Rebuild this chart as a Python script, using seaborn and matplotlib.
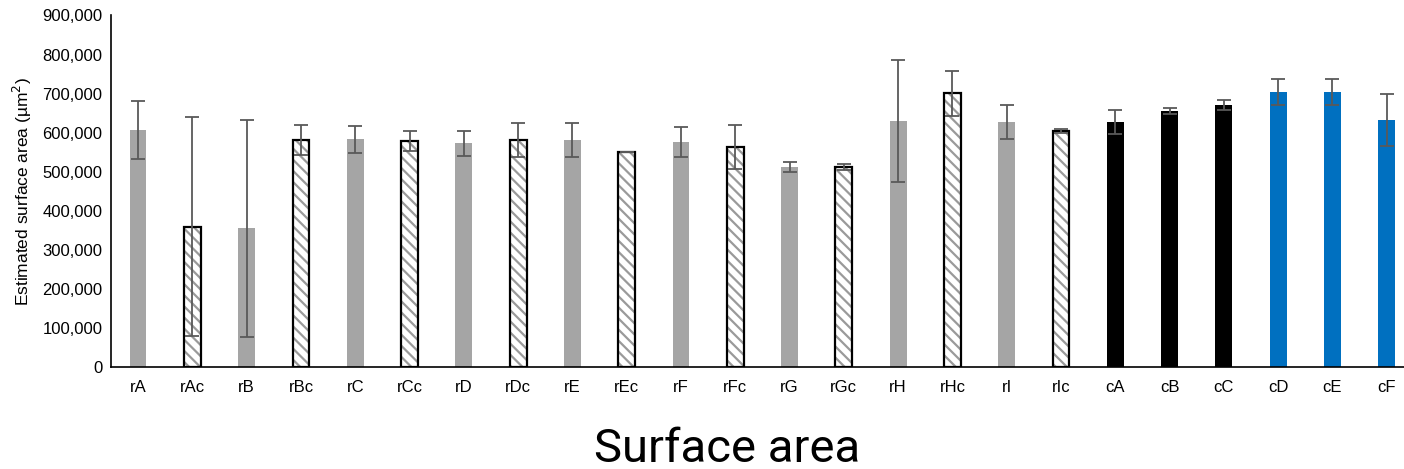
import matplotlib
matplotlib.use("Agg")
import matplotlib.pyplot as plt
import seaborn as sns
import numpy as np
import pandas as pd

# values
categories = ["rA", "rAc", "rB", "rBc", "rC", "rCc", "rD", "rDc", "rE", "rEc",
              "rF", "rFc", "rG", "rGc", "rH", "rHc", "rI", "rIc",
              "cA", "cB", "cC", "cD", "cE", "cF"]
means = [607000, 360000, 355000, 582000, 583000, 579000, 573000, 581000, 582000, 551000,
         576000, 564000, 513000, 513000, 630000, 701000, 628000, 604000,
         627000, 655000, 671000, 704000, 704000, 633000]
errors = [74000, 280000, 277000, 39000, 35000, 26000, 32000, 44000, 43000, 0,
          38000, 56000, 13000, 8000, 155000, 57000, 44000, 5000,
          31000, 8000, 14000, 33000, 33000, 67000]
groups = ["raw", "hatched"] * 9 + ["black"] * 3 + ["blue"] * 3
y_ticks = list(range(0, 900001, 100000))

group_colors = {"raw": "#a5a5a5", "hatched": "#ffffff", "black": "#000000", "blue": "#0070c0"}

df = pd.DataFrame({"cat": categories, "mean": means, "err": errors, "group": groups})

sns.set_theme(style="white")
plt.rcParams["font.family"] = ["Liberation Sans", "DejaVu Sans"]
plt.rcParams["hatch.linewidth"] = 1.6
plt.rcParams["text.color"] = "black"
plt.rcParams["axes.labelcolor"] = "black"
plt.rcParams["xtick.color"] = "black"
plt.rcParams["ytick.color"] = "black"

fig = plt.figure(figsize=(14.04, 4.69), dpi=100)
ax = fig.add_axes([0.079, 0.217, 0.93, 0.75])

sns.barplot(data=df, x="cat", y="mean", hue="cat",
            palette=[group_colors[g] for g in groups], saturation=1,
            width=0.31, errorbar=None, legend=False, ax=ax, linewidth=0)

pos = np.arange(len(categories))
is_hatched = df["group"] == "hatched"
for patch, h in zip(ax.patches, is_hatched):
    if h:
        patch.set_edgecolor("#9a9a9a")
        patch.set_hatch("\\\\\\")
        patch.set_linewidth(0)

# black outlines on the hatched bars
ax.bar(pos[is_hatched], df["mean"][is_hatched], width=0.31, fill=False,
       edgecolor="black", linewidth=1.6, zorder=3)

ax.errorbar(pos, df["mean"], yerr=df["err"], fmt="none", ecolor="#595959",
            elinewidth=1.3, capsize=5, capthick=1.3, zorder=4)

ax.set_ylim(0, 900000)
ax.set_xlim(-0.5, len(categories) - 0.45)
ax.set_yticks(y_ticks)
ax.set_yticklabels([f"{v:,}" for v in y_ticks], fontsize=12)
ax.tick_params(axis="x", labelsize=12, length=0, pad=9)
ax.tick_params(axis="y", length=0, pad=6)

ax.set_ylabel("Estimated surface area (µm$^2$)", fontsize=12.5, labelpad=6)
ax.set_xlabel("Surface area", fontsize=34, family="Roboto")
ax.xaxis.set_label_coords(0.472, -0.232)
ax.xaxis.label.set_va("center")

for side in ["top", "right"]:
    ax.spines[side].set_visible(False)
ax.spines["left"].set_color("black")
ax.spines["bottom"].set_color("black")
ax.spines["left"].set_linewidth(1.2)
ax.spines["bottom"].set_linewidth(1.2)

fig.savefig("out.png", dpi=100)
